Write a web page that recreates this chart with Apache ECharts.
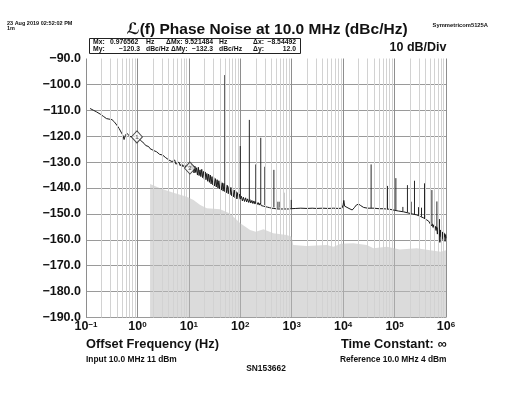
<!DOCTYPE html>
<html><head><meta charset="utf-8">
<script src="https://cdn.jsdelivr.net/npm/echarts@6/dist/echarts.min.js"></script>
<style>html,body{margin:0;padding:0;background:#fff}#c{width:511px;height:395px}</style>
</head><body><div id="c"></div>
<script>
// ---- data ----
const X_TICKS = [0.1, 1, 10, 100, 1e3, 1e4, 1e5, 1e6];
const X_EXP = ['−1', '0', '1', '2', '3', '4', '5', '6'];
const Y_MIN = -190, Y_MAX = -90, Y_STEP = 10;

const NOISE_FREQ = [0.12,0.14,0.16,0.19,0.22,0.25,0.28,0.32,0.36,0.40,0.44,0.48,0.52,0.55,0.58,0.62,0.67,0.72,0.78,0.85,0.92,0.98,
1.05,1.15,1.25,1.35,1.45,1.55,1.65,1.76,1.9,2.05,2.2,2.35,2.5,2.7,2.9,3.1,3.3,3.55,3.8,4.1,4.4,4.7,5.0,5.3,5.6,6.0,6.4,6.8,7.2,7.7,8.2,8.8,9.4,
10.0,10.4,10.8,11.2,11.6,12.1,12.6,13.1,13.6,14.1,14.7,15.3,15.8,16.5,17.1,17.8,18.5,19.2,20.0,20.8,21.5,22.4,23.3,24.2,25.1,26.1,27.1,28.2,29.3,30.4,
31.6,32.9,34.1,35.5,36.9,38.3,39.8,41.4,43.0,44.7,46.4,48.3,50.1,52.1,54.1,56.2,58.4,60.7,63.1,65.6,68.1,70.8,73.6,76.5,79.4,82.5,85.8,89.1,92.6,96.2,
100,105,110,115,121,127,133,139,146,153,160,168,176,184,193,202,212,222,233,244,256,268,281,294,308,323,339,355,372,390,409,428,449,470,493,516,541,567,594,622,652,684,716,751,787,825,864,906,949,
1000,1200,1500,2000,2500,3000,4000,5000,6500,8000,9500,10000,10300,10700,11500,13000,15000,16500,18000,20000,22000,25000,30000,40000,50000,60000,80000,
100000,120000,150000,180000,220000,270000,320000,370000,420000,460000,500000,520000,540000,560000,580000,600000,620000,640000,660000,680000,700000,720000,740000,760000,780000,800000,820000,840000,860000,880000,900000,920000,940000,960000,980000,1000000];
const NOISE_DBC = [-109.3,-110.0,-110.6,-111.5,-112.4,-113.2,-113.4,-113.6,-114.6,-115.8,-117.0,-118.4,-119.6,-121.3,-119.8,-118.8,-119.5,-120.2,-120.6,-120.0,-120.4,-120.3,
-120.9,-121.6,-122.3,-122.8,-123.6,-124.2,-124.0,-124.8,-125.0,-125.5,-125.9,-126.0,-126.6,-127.0,-127.4,-127.3,-128.0,-128.3,-127.9,-129.2,-128.6,-129.8,-130.3,-129.2,-130.8,-131.0,-130.0,-131.4,-130.6,-131.8,-131.0,-132.2,-131.4,
-132.3,-131.2,-133.0,-130.8,-132.8,-131.4,-134.2,-131.6,-134.0,-132.2,-135.0,-132.0,-135.2,-133.0,-135.6,-132.8,-136.0,-133.6,-136.6,-133.8,-136.8,-134.4,-137.4,-134.6,-137.8,-135.0,-138.4,-135.6,-138.8,-136.0,
-139.2,-136.4,-139.6,-136.8,-140.0,-137.2,-140.4,-137.4,-140.8,-138.0,-141.2,-138.2,-141.4,-138.8,-141.8,-139.0,-142.2,-139.4,-142.6,-139.8,-143.0,-140.4,-143.4,-140.8,-143.8,-141.4,-144.2,-141.8,-144.6,-142.4,
-144.2,-143.2,-145.0,-143.6,-145.2,-143.8,-145.4,-144.2,-145.6,-144.4,-145.8,-144.8,-146.0,-145.0,-146.2,-145.2,-146.4,-145.6,-146.6,-145.8,-146.8,-146.2,-147.0,-146.4,-147.2,-146.6,-147.4,-146.8,-147.6,-147.0,-147.8,-147.2,-147.9,-147.3,-148.0,-147.4,-148.1,-147.5,-148.1,-147.6,-148.1,-147.6,-148.1,-147.7,-148.1,-147.7,-148.1,-147.7,-148.0,
-147.8,-147.9,-147.8,-147.9,-147.8,-147.9,-147.8,-147.9,-147.8,-147.9,-147.8,-146.5,-144.8,-147.0,-147.7,-147.9,-148.5,-147.6,-146.6,-146.2,-146.8,-147.5,-147.8,-147.8,-148.0,-148.0,-148.2,
-148.6,-148.9,-149.2,-149.6,-150.0,-150.4,-151.0,-151.6,-152.3,-152.8,-153.4,-154.6,-153.8,-155.2,-154.2,-156.0,-154.8,-156.4,-155.0,-157.8,-155.4,-158.5,-155.8,-161.0,-156.2,-158.8,-156.6,-159.6,-157.0,-160.2,-157.2,-159.0,-157.6,-160.6,-158.0,-159.4];

const SPUR_FREQ = [50,100,150,200,250,300,450,540,590,700,980,35000,72800,106000,145000,178000,210000,244000,292000,334000,382000,532000,665000,748000,893000];
const SPUR_BASE = [-139.5,-143.5,-144.5,-145.5,-146.0,-146.6,-147.5,-147.8,-147.6,-147.8,-147.9,-147.8,-148.2,-148.6,-149.0,-149.5,-149.8,-150.2,-150.6,-151.1,-151.7,-153.8,-155.6,-156.5,-158.0];
const SPUR_TOP = [-96.4,-123.8,-113.7,-130.9,-120.6,-131.8,-133.0,-145.3,-145.3,-141.8,-144.6,-130.9,-139.2,-136.2,-147.3,-138.9,-145.3,-137.2,-147.4,-147.6,-138.2,-140.8,-145.2,-152.0,-154.5];

const FLOOR_FREQ = [1.76,2.76,5.0,9.1,12.3,16.6,22.4,40.7,63.1,100,155,200,282,437,794,1000,1070,1950,4800,6500,9000,15800,28800,38900,70800,126000,269000,490000,794000,1000000];
const FLOOR_DBC = [-138.5,-140.1,-141.8,-143.4,-144.6,-146.6,-147.8,-148.2,-149.8,-153.6,-156.2,-156.9,-155.9,-157.5,-158.1,-158.8,-162.0,-162.4,-162.0,-162.7,-161.5,-161.3,-162.0,-163.3,-162.7,-163.7,-163.3,-164.0,-164.6,-164.0];

const MARKER_F = [0.976562, 10.498046];
const MARKER_DBC = [-120.3, -132.3];
const MARKER_LABEL = ['1', '2'];
const MINOR_MULT = [2, 3, 4, 5, 6, 7, 8, 9];

// ---- build ----
const FONT = "'Liberation Sans', Arial, 'DejaVu Sans', sans-serif";
const noiseData = NOISE_FREQ.map((f, i) => [f, NOISE_DBC[i]]);
const floorData = FLOOR_FREQ.map((f, i) => [f, FLOOR_DBC[i]]);
const spurData = [];
SPUR_FREQ.forEach((f, i) => { spurData.push([f, SPUR_BASE[i]], [f, SPUR_TOP[i]], [f, '-']); });
const minorLines = [];
for (let d = 0; d < X_TICKS.length - 1; d++) {
  MINOR_MULT.forEach(m => minorLines.push({ xAxis: X_TICKS[d] * m }));
}
const markerData = MARKER_F.map((f, i) => ({ value: [f, MARKER_DBC[i]], label: { formatter: MARKER_LABEL[i] } }));

const chart = echarts.init(document.getElementById('c'), null, { renderer: 'canvas' });

function txt(x, y, text, size, opts) {
  return {
    type: 'text', x: x, y: y, silent: true, z: 10,
    style: Object.assign({ text: text, fontFamily: FONT, fontSize: size, fontWeight: 'bold', fill: '#111', align: 'left', verticalAlign: 'middle' }, opts || {})
  };
}
const L1 = 42.5, L2 = 49.5, MS = 6.8;
const graphics = [
  txt(7, 23, '23 Aug 2019 02:52:02 PM', 5.5),
  txt(7, 28.5, '1m', 5.5),
  txt(267, 30, 'ℒ(f) Phase Noise at 10.0 MHz (dBc/Hz)', 15.5, { align: 'center' }),
  txt(488, 25, 'Symmetricom5125A', 5.8, { align: 'right' }),
  txt(446.5, 48, '10 dB/Div', 12.5, { align: 'right' }),
  { type: 'rect', shape: { x: 89.5, y: 38.5, width: 211, height: 15 }, style: { fill: '#fff', stroke: '#222', lineWidth: 1 }, z: 9, silent: true },
  txt(93, L1, 'Mx:', MS), txt(110, L1, '0.976562', MS), txt(146, L1, 'Hz', MS),
  txt(166, L1, 'ΔMx:', MS), txt(213, L1, '9.521484', MS, { align: 'right' }), txt(219, L1, 'Hz', MS),
  txt(253, L1, 'Δx:', MS), txt(296, L1, '−8.54492', MS, { align: 'right' }),
  txt(93, L2, 'My:', MS), txt(140, L2, '−120.3', MS, { align: 'right' }), txt(146, L2, 'dBc/Hz', MS),
  txt(171, L2, 'ΔMy:', MS), txt(213, L2, '−132.3', MS, { align: 'right' }), txt(219, L2, 'dBc/Hz', MS),
  txt(253, L2, 'Δy:', MS), txt(296, L2, '12.0', MS, { align: 'right' }),
  txt(86, 344, 'Offset Frequency (Hz)', 12.8),
  txt(446.5, 344, 'Time Constant: ∞', 12.8, { align: 'right' }),
  txt(86, 360, 'Input 10.0 MHz 11 dBm', 8.4),
  txt(446.5, 360, 'Reference 10.0 MHz 4 dBm', 8.4, { align: 'right' }),
  txt(266, 368.5, 'SN153662', 8.4, { align: 'center' })
];

const ySplitColors = [];
for (let v = Y_MIN; v <= Y_MAX; v += Y_STEP) ySplitColors.push(v === Y_MAX ? 'rgba(0,0,0,0)' : '#9a9a9a');

chart.setOption({
  animation: false,
  backgroundColor: '#fff',
  grid: { left: 86, right: 65, top: 58.5, bottom: 77.5, containLabel: false },
  xAxis: {
    type: 'log', logBase: 10, min: X_TICKS[0], max: X_TICKS[X_TICKS.length - 1],
    axisLine: { show: false }, axisTick: { show: false },
    splitLine: { show: true, lineStyle: { color: '#8e8e8e', width: 1 } },
    axisLabel: {
      margin: 3,
      formatter: function (v) {
        const i = X_TICKS.findIndex(t => Math.abs(Math.log10(t) - Math.log10(v)) < 1e-6);
        return i < 0 ? '' : '{b|10}{s|' + X_EXP[i] + '}';
      },
      rich: {
        b: { fontFamily: FONT, fontSize: 12.5, fontWeight: 'bold', color: '#111' },
        s: { fontFamily: FONT, fontSize: 8, fontWeight: 'bold', color: '#111', verticalAlign: 'top', padding: [0, 0, 5, 0] }
      }
    }
  },
  yAxis: {
    type: 'value', min: Y_MIN, max: Y_MAX, interval: Y_STEP,
    axisLine: { show: false }, axisTick: { show: false },
    splitLine: { show: true, lineStyle: { color: ySplitColors, width: 1 } },
    axisLabel: {
      margin: 5, fontFamily: FONT, fontSize: 12.5, fontWeight: 'bold', color: '#111',
      formatter: v => v.toFixed(1).replace('-', '−')
    }
  },
  series: [
    {
      type: 'line', data: [], silent: true, z: 1,
      markLine: {
        silent: true, symbol: 'none', label: { show: false },
        lineStyle: { color: '#d2d2d2', width: 1, type: 'solid' },
        data: minorLines, animation: false
      }
    },
    {
      name: 'floor', type: 'line', data: floorData, showSymbol: false, symbol: 'none', z: 2, silent: true,
      lineStyle: { width: 0 }, areaStyle: { color: '#bdbdbd', opacity: 0.55, origin: 'start' }
    },
    {
      name: 'noise', type: 'line', data: noiseData, showSymbol: false, symbol: 'none', z: 4, silent: true,
      lineStyle: { color: '#1a1a1a', width: 1 }
    },
    {
      name: 'spurs', type: 'line', data: spurData, showSymbol: false, symbol: 'none', z: 4, silent: true, connectNulls: false,
      lineStyle: { color: '#262626', width: 1 }
    },
    {
      name: 'markers', type: 'scatter', data: markerData, symbol: 'diamond', symbolSize: [11, 12], z: 5, silent: true,
      itemStyle: { color: '#fff', borderColor: '#222', borderWidth: 1 },
      label: { show: true, position: 'inside', fontFamily: FONT, fontSize: 6, color: '#222' }
    }
  ],
  graphic: graphics
});
</script></body></html>
